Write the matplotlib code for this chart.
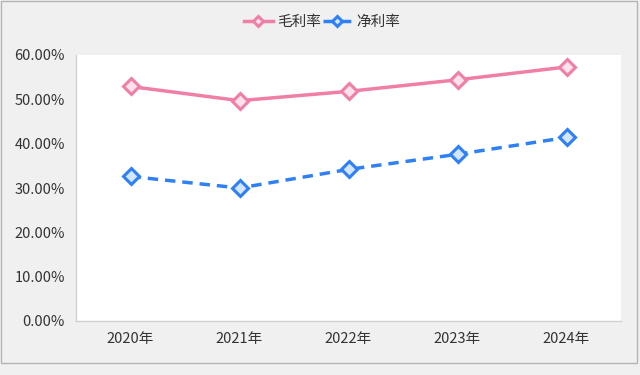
import matplotlib
matplotlib.use("Agg")
from matplotlib import pyplot as plt
from matplotlib.patches import Rectangle
from matplotlib.ticker import FuncFormatter

plt.rcParams["font.family"] = ["Noto Sans CJK SC", "DejaVu Sans"]

years = ["2020年", "2021年", "2022年", "2023年", "2024年"]
gross_margin = [52.9, 49.7, 51.8, 54.4, 57.3]
net_margin = [32.6, 30.0, 34.2, 37.6, 41.4]

W, H = 640, 375
fig = plt.figure(figsize=(W / 100, H / 100), dpi=100)
fig.patch.set_facecolor("#f0f0f0")

# outer frame
fig.patches.append(
    Rectangle((1 / W, 1 - 363 / H), 636 / W, 362 / H, transform=fig.transFigure,
              fill=False, edgecolor="#b4b4b4", linewidth=1)
)

ax = fig.add_axes([76 / W, 1 - 321 / H, 545 / W, 266 / H])
ax.set_facecolor("white")

x = range(len(years))
ax.plot(x, gross_margin, color="#f07fa8", linewidth=2.5, marker="D", markersize=8,
        markerfacecolor="#fde2ec", markeredgecolor="#f07fa8", markeredgewidth=2.2,
        label="毛利率", zorder=3)
ax.plot(x, net_margin, color="#2f80f5", linewidth=2.5, linestyle=(0, (3, 2)), marker="D",
        markersize=8, markerfacecolor="#d3e5ff", markeredgecolor="#2f80f5",
        markeredgewidth=2.2, label="净利率", zorder=3)

ax.set_xlim(-0.5, len(years) - 0.5)
ax.set_ylim(0, 60)
ax.set_yticks(range(0, 61, 10))
ax.yaxis.set_major_formatter(FuncFormatter(lambda v, p: "{:.2f}%".format(v)))
ax.set_xticks(list(x))
ax.set_xticklabels(years)
ax.tick_params(axis="both", length=0, labelsize=10.5, colors="#333333")
ax.tick_params(axis="y", pad=8)
ax.tick_params(axis="x", pad=8)

for s in ["top", "right"]:
    ax.spines[s].set_visible(False)
for s in ["left", "bottom"]:
    ax.spines[s].set_color("#d0d0d0")
    ax.spines[s].set_linewidth(1)

leg = fig.legend(loc="center", bbox_to_anchor=(322 / W, 1 - 22 / H), ncol=2, frameon=False,
                 fontsize=10.5, handlelength=2.0, handletextpad=0.3, columnspacing=0.1,
                 markerscale=0.7)
for t in leg.get_texts():
    t.set_color("#333333")

fig.savefig("out.png", dpi=100, facecolor=fig.get_facecolor())
